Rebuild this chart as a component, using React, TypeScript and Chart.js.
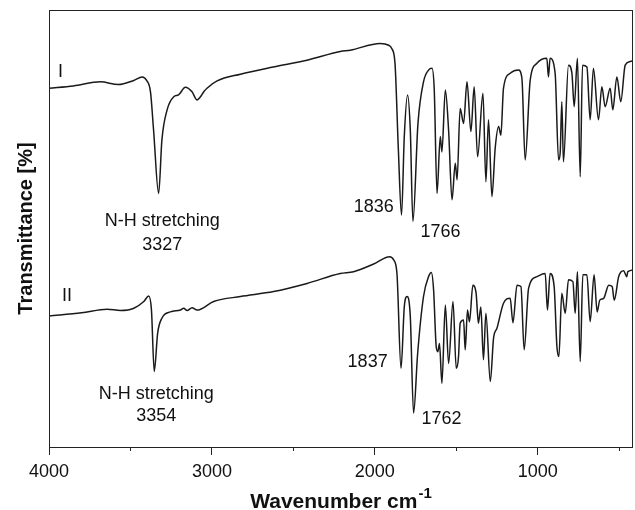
import { useEffect, useRef } from 'react';
import { Chart, registerables } from 'chart.js';

Chart.register(...registerables);

const FONT = '"Liberation Sans", Arial, Helvetica, sans-serif';

// Trace I (wavenumber cm-1, transmittance a.u.)
const wnI = [4000, 3850, 3684, 3574, 3480, 3428, 3402, 3377, 3358, 3327, 3307, 3275, 3234, 3205, 3163, 3122, 3091, 3070, 3050, 3030, 2968, 2825, 2623, 2416, 2212, 2150, 1967, 1915, 1896, 1876, 1856, 1836, 1819, 1799, 1782, 1766, 1735, 1701, 1670, 1649, 1635, 1618, 1598, 1588, 1567, 1547, 1526, 1506, 1495, 1476, 1455, 1434, 1410, 1390, 1369, 1336, 1318, 1302, 1281, 1261, 1240, 1226, 1210, 1169, 1118, 1097, 1077, 1046, 1005, 944, 934, 924, 893, 872, 862, 852, 842, 811, 790, 776, 756, 739, 725, 698, 678, 658, 627, 606, 586, 555, 539, 514, 490, 463, 433, 402];
const tI = [80.5, 81.0, 81.9, 81.3, 82.2, 83.0, 82.3, 79.7, 71.2, 57.2, 69.0, 75.7, 78.6, 79.0, 80.7, 79.7, 77.9, 78.6, 79.7, 80.5, 82.1, 83.6, 85.2, 86.7, 88.6, 88.9, 90.4, 90.0, 89.3, 86.0, 67.5, 52.4, 69.8, 79.0, 71.2, 51.0, 72.7, 81.9, 84.5, 84.9, 80.1, 57.2, 69.8, 66.4, 80.1, 71.2, 55.8, 63.9, 60.2, 76.0, 72.7, 81.9, 70.9, 80.8, 65.3, 79.4, 59.8, 73.5, 56.5, 67.2, 72.0, 70.1, 80.5, 83.8, 84.5, 82.7, 64.6, 82.3, 86.0, 87.1, 83.0, 87.1, 83.8, 64.6, 66.2, 77.5, 64.2, 85.6, 83.8, 76.4, 87.1, 60.9, 85.6, 85.2, 73.5, 84.9, 73.5, 80.8, 76.4, 80.5, 75.7, 83.0, 77.5, 85.6, 86.4, 86.7];

// Trace II
const wnII = [4000, 3800, 3643, 3561, 3479, 3418, 3388, 3371, 3354, 3333, 3307, 3255, 3193, 3173, 3152, 3122, 3091, 2989, 2825, 2621, 2416, 2212, 2130, 2007, 1909, 1884, 1864, 1839, 1819, 1802, 1782, 1762, 1737, 1701, 1670, 1653, 1639, 1623, 1613, 1603, 1588, 1567, 1547, 1520, 1500, 1486, 1476, 1455, 1445, 1431, 1419, 1398, 1378, 1364, 1349, 1333, 1318, 1291, 1271, 1250, 1210, 1169, 1152, 1127, 1103, 1083, 1056, 1005, 954, 940, 924, 899, 882, 870, 852, 831, 811, 784, 770, 756, 739, 723, 698, 678, 654, 635, 619, 595, 564, 543, 530, 503, 473, 453, 447, 402];
const tII = [30.1, 30.8, 31.6, 31.3, 31.8, 33.3, 34.5, 31.4, 17.8, 26.3, 29.6, 31.0, 31.4, 31.8, 31.3, 31.9, 31.4, 33.3, 34.4, 35.5, 37.3, 39.5, 39.9, 41.6, 43.2, 42.5, 39.5, 18.5, 32.1, 34.4, 29.9, 8.6, 21.8, 34.4, 38.8, 39.7, 35.8, 23.3, 22.2, 24.0, 15.2, 32.5, 19.6, 33.3, 18.5, 21.1, 28.5, 29.2, 22.6, 31.4, 28.8, 36.9, 35.1, 28.5, 32.1, 20.4, 30.7, 15.6, 25.2, 27.4, 32.9, 34.0, 28.6, 36.9, 36.6, 22.6, 36.2, 38.8, 39.5, 31.4, 39.5, 36.6, 23.3, 21.1, 35.1, 30.7, 38.1, 37.7, 30.7, 39.9, 20.0, 39.2, 39.2, 28.8, 39.2, 31.0, 33.6, 34.0, 36.9, 36.6, 33.6, 38.8, 40.1, 38.8, 39.9, 40.3];

const xMin = 415;
const xMax = 4000;
const yMin = 1.1;
const yMax = 97.8;
const majorTicks = [4000, 3000, 2000, 1000];
const minorTicks = [3500, 2500, 1500, 500];

// Annotations: text, wavenumber, transmittance
const annText = ['I', 'II', 'N-H stretching', '3327', 'N-H stretching', '3354', '1836', '1766', '1837', '1762'];
const annWn = [3930, 3889, 3305, 3305, 3342, 3342, 2007, 1597, 2044, 1590];
const annT = [84.0, 34.4, 51.0, 45.8, 12.8, 8.0, 54.3, 48.7, 20.0, 7.3];

const xTitle = 'Wavenumber cm';
const xTitleSup = '-1';
const yTitle = 'Transmittance [%]';

const LINE = '#1a1a1a';
const AXIS = '#222222';

const extrasPlugin = {
  id: 'extras',
  afterDraw(chart: any) {
    const ctx = chart.ctx;
    const area = chart.chartArea;
    const xs = chart.scales.x;
    const ys = chart.scales.y;
    ctx.save();
    // frame
    ctx.strokeStyle = AXIS;
    ctx.lineWidth = 1;
    ctx.strokeRect(Math.round(area.left) + 0.5, Math.round(area.top) + 0.5, Math.round(area.right - area.left) - 1, Math.round(area.bottom - area.top));
    // minor ticks
    ctx.beginPath();
    minorTicks.forEach((v) => {
      const px = Math.round(xs.getPixelForValue(v)) + 0.5;
      ctx.moveTo(px, area.bottom);
      ctx.lineTo(px, area.bottom + 4);
    });
    ctx.stroke();
    // annotations
    ctx.fillStyle = '#111';
    ctx.font = `18px ${FONT}`;
    ctx.textAlign = 'center';
    ctx.textBaseline = 'middle';
    annText.forEach((t, i) => {
      ctx.fillText(t, xs.getPixelForValue(annWn[i]), ys.getPixelForValue(annT[i]));
    });
    // x title with superscript
    const cx = (area.left + area.right) / 2;
    ctx.font = `bold 21px ${FONT}`;
    const w1 = ctx.measureText(xTitle).width;
    ctx.font = `bold 15px ${FONT}`;
    const w2 = ctx.measureText(xTitleSup).width;
    const start = cx - (w1 + w2 + 1) / 2;
    ctx.textAlign = 'left';
    ctx.textBaseline = 'alphabetic';
    ctx.font = `bold 21px ${FONT}`;
    ctx.fillText(xTitle, start, 508);
    ctx.font = `bold 15px ${FONT}`;
    ctx.fillText(xTitleSup, start + w1 + 1, 498);
    // y title
    ctx.translate(32, (area.top + area.bottom) / 2);
    ctx.rotate(-Math.PI / 2);
    ctx.textAlign = 'center';
    ctx.font = `bold 20px ${FONT}`;
    ctx.fillText(yTitle, 0, 0);
    ctx.restore();
  },
};

export default function App() {
  const ref = useRef<HTMLCanvasElement>(null);
  useEffect(() => {
    if (!ref.current) return;
    const chart = new Chart(ref.current, {
      type: 'line',
      data: {
        datasets: [
          {
            label: 'I',
            data: wnI.map((w, i) => ({ x: w, y: tI[i] })),
            borderColor: LINE,
            borderWidth: 1.5,
            pointRadius: 0,
            cubicInterpolationMode: 'monotone',
            fill: false,
          },
          {
            label: 'II',
            data: wnII.map((w, i) => ({ x: w, y: tII[i] })),
            borderColor: LINE,
            borderWidth: 1.5,
            pointRadius: 0,
            cubicInterpolationMode: 'monotone',
            fill: false,
          },
        ],
      },
      options: {
        animation: false,
        responsive: false,
        devicePixelRatio: 1,
        layout: { padding: { top: 10, right: 2, left: 0, bottom: 0 } },
        plugins: { legend: { display: false }, tooltip: { enabled: false }, title: { display: false } },
        scales: {
          x: {
            type: 'linear',
            reverse: true,
            min: xMin,
            max: xMax,
            afterBuildTicks: (s: any) => {
              s.ticks = majorTicks.map((v) => ({ value: v }));
            },
            afterFit: (s: any) => {
              s.height = 63;
            },
            ticks: {
              autoSkip: false,
              maxRotation: 0,
              padding: 6,
              color: '#111',
              font: { size: 18, family: FONT },
              callback: (v: any) => String(v),
            },
            grid: {
              drawOnChartArea: false,
              drawTicks: true,
              tickLength: 8,
              color: AXIS,
              lineWidth: 1,
            },
            border: { display: false },
          },
          y: {
            type: 'linear',
            min: yMin,
            max: yMax,
            afterFit: (s: any) => {
              s.width = 49;
            },
            ticks: { display: false },
            grid: { display: false },
            border: { display: false },
          },
        },
      },
      plugins: [extrasPlugin],
    } as any);
    return () => chart.destroy();
  }, []);
  return (
    <div style={{ position: 'absolute', left: 0, top: 0, width: 635, height: 510, background: '#fff' }}>
      <canvas ref={ref} width={635} height={510} style={{ width: 635, height: 510, display: 'block' }} />
    </div>
  );
}
